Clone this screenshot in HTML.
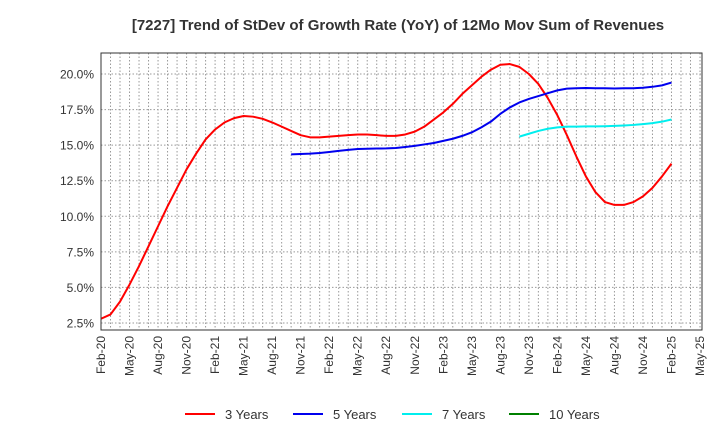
<!DOCTYPE html>
<html><head><meta charset="utf-8"><style>
body{margin:0;background:#fff;font-family:"Liberation Sans",Arial,sans-serif}
svg text{font-family:"Liberation Sans",Arial,sans-serif}
</style></head><body>
<svg id="chart" width="720" height="440" xmlns="http://www.w3.org/2000/svg">
<text x="398" y="30" text-anchor="middle" font-size="15" font-weight="bold" fill="#333">[7227]  Trend of StDev of Growth Rate (YoY) of 12Mo Mov Sum of Revenues</text>
<g id="grid"></g>
<g id="series"></g>
<rect x="101" y="53" width="601" height="277" fill="none" stroke="#333" stroke-width="1"/>
<g id="axes"></g>
<g id="legend"></g>
</svg>
<script>
const xLabels=["Feb-20","May-20","Aug-20","Nov-20","Feb-21","May-21","Aug-21","Nov-21","Feb-22","May-22","Aug-22","Nov-22","Feb-23","May-23","Aug-23","Nov-23","Feb-24","May-24","Aug-24","Nov-24","Feb-25","May-25"];
const yTicks=[2.5,5,7.5,10,12.5,15,17.5,20];
const s3=[2.8,3.1,4.0,5.2,6.5,7.9,9.3,10.7,12.0,13.3,14.4,15.4,16.1,16.6,16.9,17.05,17.0,16.85,16.6,16.3,16.0,15.7,15.55,15.55,15.6,15.65,15.7,15.75,15.75,15.7,15.65,15.65,15.75,15.95,16.3,16.8,17.3,17.9,18.6,19.2,19.8,20.3,20.65,20.7,20.5,20.0,19.3,18.3,17.1,15.7,14.2,12.8,11.7,11.0,10.8,10.8,11.0,11.4,12.0,12.8,13.7];
const s5Start=20;
const s5=[14.35,14.38,14.4,14.45,14.52,14.6,14.67,14.73,14.75,14.76,14.77,14.8,14.87,14.95,15.05,15.15,15.3,15.45,15.65,15.9,16.25,16.65,17.2,17.65,18.0,18.25,18.45,18.65,18.85,18.97,19.0,19.02,19.0,19.0,18.98,19.0,19.0,19.03,19.1,19.2,19.4];
const s7Start=44;
const s7=[15.6,15.8,16.0,16.15,16.25,16.3,16.3,16.32,16.32,16.33,16.35,16.38,16.42,16.48,16.55,16.65,16.8];
const s10=[];
const NS="http://www.w3.org/2000/svg";
const X0=101,X1=702,Y0=53,Y1=330,months=(xLabels.length-1)*3;
const xs=i=>X0+(X1-2-X0)*i/months;
const ys=v=>323-(v-2.5)*(323-74)/17.5;
function mk(t,a,p){const e=document.createElementNS(NS,t);for(const k in a)e.setAttribute(k,a[k]);p.appendChild(e);return e;}
const grid=document.getElementById('grid'),axes=document.getElementById('axes'),ser=document.getElementById('series'),leg=document.getElementById('legend');
for(let m=0;m<=months;m++){const x=xs(m);
const l=mk('line',{x1:x,x2:x,y1:Y0,y2:Y1,stroke:'#999','stroke-dasharray':'1.5,2','stroke-width':1},grid);

}
yTicks.forEach(v=>{const y=ys(v);
const l=mk('line',{x1:X0,x2:X1,y1:y,y2:y,stroke:'#999','stroke-dasharray':'1.5,2','stroke-width':1},grid);


const t=mk('text',{x:94,y:y+4.5,'text-anchor':'end','font-size':12,fill:'#333'},axes);t.textContent=v.toFixed(1)+'%';

});
xLabels.forEach((lb,i)=>{const x=xs(i*3);
const t=mk('text',{x:0,y:0,'text-anchor':'end','font-size':12,fill:'#333',transform:`translate(${x+4},336) rotate(-90)`},axes);t.textContent=lb;

});
function line(arr,start,color,name){if(!arr.length)return;
const p=mk('polyline',{points:arr.map((v,i)=>xs(start+i)+','+ys(v)).join(' '),fill:'none',stroke:color,'stroke-width':2,'stroke-linejoin':'round'},ser);

}
line(s3,0,'#ff0000','line-3-years');
line(s5,s5Start,'#0000ee','line-5-years');
line(s7,s7Start,'#00eeee','line-7-years');
line(s10,0,'#008000','line-10-years');
[['3 Years','#ff0000',185],['5 Years','#0000ee',293],['7 Years','#00eeee',402],['10 Years','#008000',509]].forEach(([n,c,x])=>{
const g=mk('g',{},leg);


mk('line',{x1:x,x2:x+30,y1:414,y2:414,stroke:c,'stroke-width':2},g);
const t=mk('text',{x:x+40,y:419,'font-size':13,fill:'#333'},g);t.textContent=n;});
</script>
</body></html>
